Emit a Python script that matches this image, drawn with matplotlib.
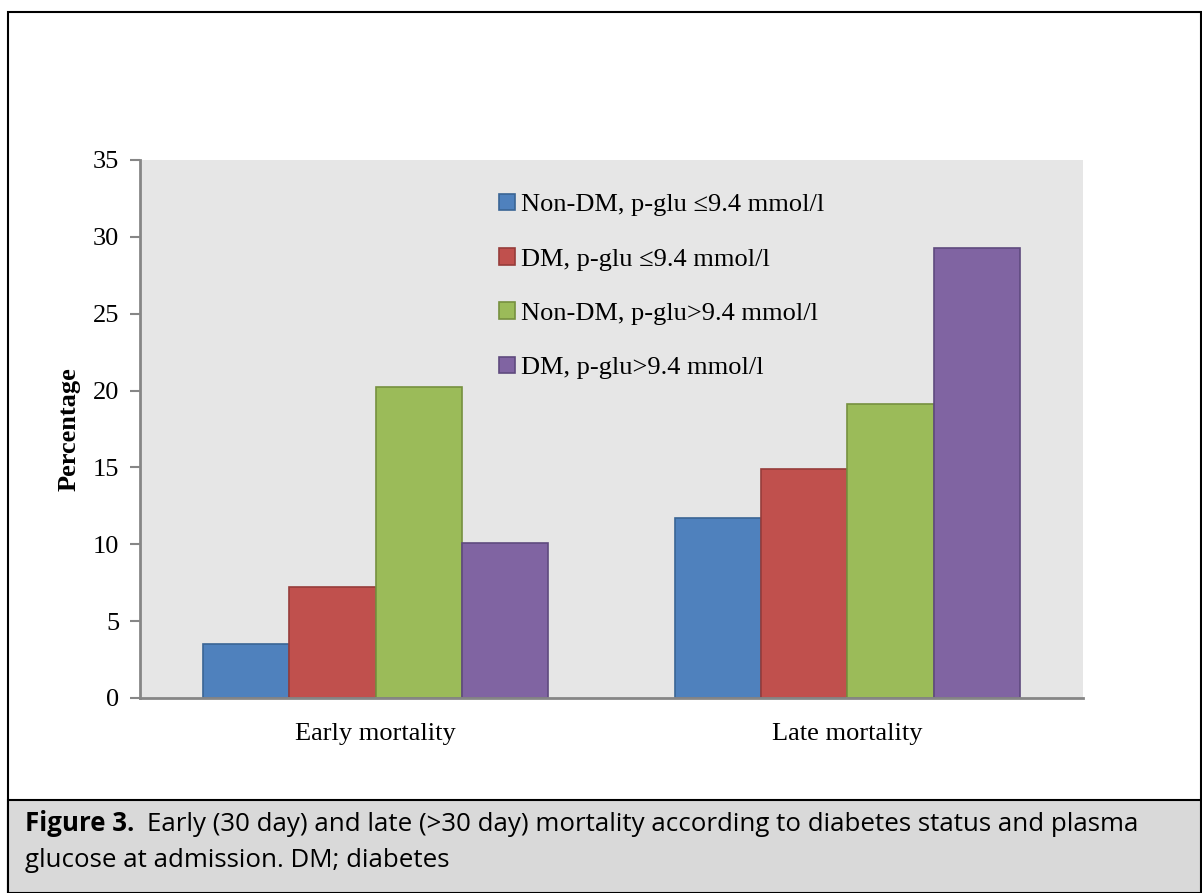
import matplotlib.pyplot as plt
import numpy as np
from matplotlib.patches import Rectangle

categories = ["Early mortality", "Late mortality"]
series = ["Non-DM, p-glu \u22649.4 mmol/l", "DM, p-glu \u22649.4 mmol/l",
          "Non-DM, p-glu>9.4 mmol/l", "DM, p-glu>9.4 mmol/l"]
values = [
    [3.5, 11.7],
    [7.2, 14.9],
    [20.2, 19.1],
    [10.1, 29.3],
]
colors = ["#4F81BD", "#C0504D", "#9BBB59", "#8064A2"]
edges = ["#3A6595", "#963C3A", "#76903F", "#5F4A7E"]
yticks = [0, 5, 10, 15, 20, 25, 30, 35]

W, H = 1202, 893
fig = plt.figure(figsize=(W / 100, H / 100), dpi=100)
serif = "Liberation Serif"

# outer frame and caption box
fig.patches.append(Rectangle((8 / W, 0), (W - 9) / W, (H - 12) / H, transform=fig.transFigure,
                             fill=False, edgecolor="black", linewidth=1.5, zorder=0))
fig.patches.append(Rectangle((8 / W, 0), (W - 9) / W, (H - 800) / H, transform=fig.transFigure,
                             facecolor="#D9D9D9", edgecolor="black", linewidth=1.5, zorder=0))

ax = fig.add_axes([140 / W, 1 - 698 / H, (1083 - 140) / W, (698 - 160) / H])
ax.set_facecolor("#E6E6E6")

x = np.arange(len(categories))
bw = 0.183
for i, (name, vals) in enumerate(zip(series, values)):
    ax.bar(x + (i - 1.5) * bw, vals, width=bw, color=colors[i], edgecolor=edges[i],
           linewidth=1.2, label=name, zorder=2)

ax.set_xlim(-0.5, 1.5)
ax.set_ylim(0, 35)
ax.set_yticks(yticks)
ax.set_yticklabels([str(t) for t in yticks], fontfamily=serif, fontsize=19)
ax.set_xticks(x)
ax.set_xticklabels(categories, fontfamily=serif, fontsize=19)
ax.tick_params(axis="x", length=0, pad=18)
ax.tick_params(axis="y", length=7, width=1.5, color="#868686", pad=8)
for s in ["top", "right"]:
    ax.spines[s].set_visible(False)
for s in ["left", "bottom"]:
    ax.spines[s].set_color("#868686")
    ax.spines[s].set_linewidth(2)
ax.set_ylabel("Percentage", fontfamily=serif, fontsize=19, fontweight="bold", labelpad=9)

leg = ax.legend(loc="upper left", bbox_to_anchor=(0.37, 0.957), frameon=False,
                prop={"family": serif, "size": 19}, handlelength=0.6, handleheight=0.6,
                handletextpad=0.2, labelspacing=1.2, borderaxespad=0)

# caption: bold lead then regular text
cap_font = "Open Sans"
fig.canvas.draw()
r = fig.canvas.get_renderer()
t1 = fig.text(25 / W, 1 - 831 / H, "Figure 3.", fontfamily=cap_font, fontweight="bold",
              fontsize=18.6, va="baseline")
bb = t1.get_window_extent(renderer=r)
fig.text(bb.x1 / W + 13 / W, 1 - 831 / H,
         "Early (30 day) and late (>30 day) mortality according to diabetes status and plasma",
         fontfamily=cap_font, fontsize=18.6, va="baseline")
fig.text(25 / W, 1 - 867 / H, "glucose at admission. DM; diabetes",
         fontfamily=cap_font, fontsize=18.6, va="baseline")

fig.savefig("out.png", dpi=100)
